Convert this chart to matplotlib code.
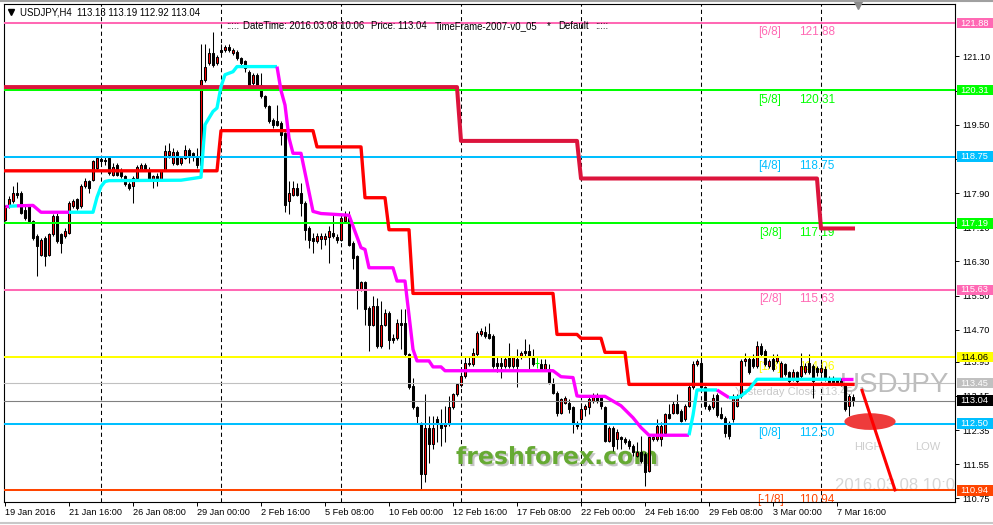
import matplotlib
matplotlib.use("Agg")
import matplotlib.pyplot as plt
import matplotlib.patheffects as pe
from matplotlib.patches import Rectangle, Ellipse
from matplotlib.transforms import blended_transform_factory
import numpy as np

plt.rcParams['font.family'] = ['Liberation Sans', 'DejaVu Sans']

# USDJPY H4 candles, bar 0 = 19 Jan 2016 00:00, last bar = 8 Mar 2016 08:00
opens = [
    117.28, 117.59, 117.71, 117.90, 117.90, 117.51, 117.59, 117.24, 116.89, 116.46,
    116.85, 116.46, 116.93, 117.37, 116.93, 116.89, 116.97, 117.59, 117.75, 117.59,
    118.06, 118.17, 118.21, 118.49, 118.70, 118.68, 118.72, 118.33, 118.56, 118.45,
    118.29, 118.10, 118.06, 118.25, 118.45, 118.56, 118.45, 118.19, 118.29, 118.21,
    118.45, 118.78, 118.60, 118.87, 118.60, 118.73, 118.91, 118.83, 118.76, 118.56,
    120.55, 120.94, 121.17, 120.94, 121.25, 121.25, 121.33, 121.17, 121.21, 121.05,
    120.98, 120.74, 120.47, 120.67, 120.43, 120.16, 119.93, 119.61, 119.58, 119.54,
    119.30, 117.71, 117.86, 118.02, 117.90, 117.67, 117.08, 116.85, 116.77, 116.83,
    116.83, 116.87, 116.97, 116.87, 116.81, 117.24, 117.32, 116.72, 116.42, 115.64,
    115.82, 115.21, 114.82, 115.25, 114.32, 114.82, 115.10, 114.51, 114.51, 114.86,
    114.86, 114.12, 113.38, 112.88, 112.49, 111.32, 112.41, 112.02, 112.61, 112.49,
    112.45, 112.49, 112.88, 113.19, 113.41, 113.62, 113.89, 113.89, 114.12, 114.59,
    114.65, 114.59, 114.55, 113.93, 113.93, 113.85, 114.05, 113.85, 114.01, 114.05,
    114.20, 114.20, 114.05, 113.93, 113.89, 113.77, 113.77, 113.46, 113.23, 112.76,
    112.99, 112.99, 112.88, 112.49, 112.61, 112.84, 112.88, 113.03, 113.15, 113.11,
    112.88, 112.10, 112.41, 112.14, 112.18, 112.14, 112.10, 111.98, 111.75, 111.83,
    111.79, 111.40, 112.14, 112.14, 112.14, 112.29, 112.72, 112.76, 112.96, 112.80,
    112.61, 112.92, 113.35, 113.89, 113.93, 113.35, 112.92, 112.88, 113.17, 112.72,
    112.64, 112.49, 112.61, 112.92, 113.15, 113.97, 114.01, 114.01, 113.85, 114.32,
    114.20, 113.85, 114.01, 113.97, 113.58, 113.89, 113.70, 113.54, 113.70, 113.62,
    113.70, 113.93, 113.85, 113.81, 113.70, 113.77, 113.58, 113.58, 113.54, 113.54,
    113.40, 112.92, 113.13,
]
highs = [
    117.63, 117.82, 118.06, 118.16, 117.94, 117.59, 117.63, 117.28, 116.93, 116.85,
    116.89, 116.97, 117.40, 117.43, 116.97, 117.08, 117.71, 117.75, 117.78, 118.10,
    118.25, 118.21, 118.68, 118.76, 118.76, 118.76, 118.76, 118.60, 118.60, 118.49,
    118.33, 118.16, 118.29, 118.56, 118.60, 118.60, 118.52, 118.33, 118.37, 118.45,
    119.03, 119.07, 118.95, 118.91, 118.76, 119.03, 118.95, 118.87, 118.95, 121.40,
    121.40, 121.29, 121.68, 121.13, 121.40, 121.37, 121.40, 121.29, 121.25, 121.09,
    121.01, 120.78, 120.70, 120.70, 120.70, 120.20, 119.96, 119.65, 119.96, 119.58,
    119.32, 118.17, 118.17, 118.13, 118.13, 117.71, 117.12, 116.97, 116.97, 116.97,
    116.97, 117.12, 117.40, 116.93, 117.40, 117.47, 117.47, 116.77, 116.46, 115.84,
    115.84, 115.25, 115.49, 115.45, 115.37, 115.18, 115.14, 114.59, 114.94, 115.18,
    115.18, 114.16, 113.58, 112.92, 112.53, 113.19, 112.68, 112.68, 112.68, 112.84,
    112.92, 113.15, 113.23, 113.46, 113.70, 114.09, 114.05, 114.28, 114.67, 114.75,
    114.79, 114.86, 114.59, 114.09, 114.09, 114.05, 114.40, 114.09, 114.24, 114.20,
    114.48, 114.36, 114.24, 114.09, 114.01, 114.01, 113.89, 113.58, 113.27, 113.11,
    113.15, 113.07, 112.92, 112.57, 112.99, 112.96, 113.15, 113.23, 113.23, 113.15,
    112.92, 112.45, 112.45, 112.37, 112.22, 112.18, 112.14, 112.02, 112.06, 112.22,
    111.83, 112.22, 112.26, 112.61, 112.53, 112.76, 112.96, 113.03, 113.19, 112.84,
    112.96, 113.46, 113.97, 114.01, 114.05, 113.38, 112.96, 113.19, 113.23, 112.88,
    112.68, 112.57, 113.19, 113.19, 114.01, 114.16, 114.05, 114.12, 114.44, 114.40,
    114.24, 114.01, 114.12, 114.12, 113.97, 113.93, 113.73, 113.77, 113.73, 114.16,
    113.93, 114.12, 113.89, 113.85, 113.89, 113.85, 113.62, 113.62, 113.58, 113.58,
    113.45, 113.19, 113.19,
]
lows = [
    117.24, 117.55, 117.67, 117.78, 117.40, 117.28, 117.20, 116.81, 115.95, 116.42,
    116.19, 116.42, 116.89, 116.73, 116.50, 116.85, 116.93, 117.55, 117.51, 117.55,
    118.02, 117.90, 118.17, 118.45, 118.60, 118.56, 118.33, 118.29, 118.29, 118.25,
    118.06, 117.98, 117.67, 118.21, 118.41, 118.41, 118.17, 118.02, 118.06, 118.17,
    118.41, 118.73, 118.56, 118.55, 118.56, 118.70, 118.60, 118.64, 118.48, 118.52,
    120.51, 120.90, 120.86, 120.90, 121.13, 121.21, 121.21, 121.13, 121.01, 120.90,
    120.74, 120.39, 120.43, 120.39, 120.12, 119.89, 119.54, 119.42, 119.46, 119.03,
    117.45, 117.40, 117.82, 117.82, 117.36, 116.81, 116.62, 116.50, 116.73, 116.58,
    116.69, 116.26, 116.85, 116.73, 116.77, 117.20, 116.65, 116.11, 115.18, 115.60,
    114.82, 114.20, 114.79, 114.28, 114.28, 114.79, 114.24, 114.40, 114.47, 114.24,
    114.09, 113.31, 112.84, 112.49, 110.97, 111.13, 111.59, 111.90, 112.06, 111.98,
    112.06, 112.45, 112.84, 113.15, 113.35, 113.58, 113.85, 113.85, 114.09, 114.55,
    114.51, 114.48, 113.81, 113.70, 113.58, 113.81, 113.81, 113.81, 113.35, 114.01,
    114.09, 113.77, 113.85, 113.81, 113.74, 113.74, 113.42, 113.19, 112.68, 112.72,
    112.96, 112.76, 112.29, 112.37, 112.41, 112.68, 112.72, 112.99, 112.99, 112.84,
    112.06, 112.06, 111.87, 111.91, 111.91, 112.02, 111.91, 111.75, 111.71, 111.59,
    111.05, 111.36, 112.10, 112.10, 111.98, 112.26, 112.61, 112.72, 112.72, 112.53,
    112.57, 112.88, 113.31, 113.85, 113.31, 112.84, 112.80, 112.84, 112.65, 112.61,
    112.18, 112.14, 112.53, 112.88, 113.11, 113.85, 113.66, 113.81, 113.81, 114.08,
    113.85, 113.81, 113.73, 113.93, 113.54, 113.62, 113.46, 113.50, 113.46, 113.58,
    113.66, 113.66, 113.11, 113.62, 113.66, 113.50, 113.42, 113.42, 113.42, 113.38,
    112.80, 112.68, 112.92,
]
closes = [
    117.59, 117.75, 117.90, 117.86, 117.43, 117.32, 117.24, 116.85, 116.65, 116.81,
    116.42, 116.93, 117.37, 116.77, 116.73, 117.01, 117.67, 117.71, 117.55, 118.06,
    118.17, 118.02, 118.64, 118.72, 118.64, 118.66, 118.37, 118.52, 118.33, 118.29,
    118.10, 118.02, 118.25, 118.52, 118.56, 118.45, 118.21, 118.29, 118.19, 118.41,
    118.89, 118.89, 118.87, 118.58, 118.72, 118.91, 118.76, 118.76, 118.56, 120.55,
    120.86, 121.17, 120.90, 121.09, 121.21, 121.33, 121.25, 121.25, 121.05, 120.94,
    120.82, 120.43, 120.67, 120.43, 120.16, 119.93, 119.58, 119.50, 119.50, 119.26,
    117.62, 117.90, 118.02, 117.86, 117.67, 117.04, 116.81, 116.77, 116.90, 116.89,
    116.90, 117.01, 116.89, 116.79, 117.32, 117.36, 116.69, 116.38, 115.64, 115.82,
    115.18, 114.82, 115.25, 114.32, 114.82, 115.10, 114.47, 114.47, 114.86, 114.82,
    114.12, 113.35, 112.88, 112.68, 111.32, 112.41, 112.02, 112.41, 112.49, 112.41,
    112.49, 112.88, 113.19, 113.42, 113.62, 113.93, 113.93, 114.16, 114.63, 114.67,
    114.55, 114.51, 113.85, 113.85, 113.85, 114.01, 113.85, 114.05, 113.85, 114.16,
    114.16, 114.05, 113.89, 113.93, 113.77, 113.89, 113.46, 113.23, 112.76, 113.07,
    113.11, 112.84, 112.49, 112.45, 112.84, 112.92, 113.07, 113.15, 113.03, 112.92,
    112.10, 112.41, 111.98, 112.30, 112.14, 112.06, 111.98, 111.83, 111.83, 111.63,
    111.36, 112.18, 112.18, 112.45, 112.45, 112.72, 112.64, 112.96, 112.76, 112.57,
    112.92, 113.35, 113.89, 113.97, 113.35, 112.92, 112.84, 113.11, 112.70, 112.64,
    112.29, 112.22, 113.15, 113.15, 113.97, 114.01, 113.70, 113.85, 114.32, 114.12,
    113.89, 113.97, 113.77, 114.05, 113.93, 113.66, 113.50, 113.70, 113.50, 113.85,
    113.85, 113.70, 113.50, 113.70, 113.81, 113.54, 113.46, 113.46, 113.46, 113.46,
    112.84, 113.15, 113.04,
]

tick_bars = [0, 16, 32, 48, 64, 80, 96, 112, 128, 144, 160, 176, 192, 208]
tick_labels = ["19 Jan 2016", "21 Jan 16:00", "26 Jan 08:00", "29 Jan 00:00",
               "2 Feb 16:00", "5 Feb 08:00", "10 Feb 00:00", "12 Feb 16:00",
               "17 Feb 08:00", "22 Feb 00:00", "24 Feb 16:00", "29 Feb 08:00",
               "3 Mar 00:00", "7 Mar 16:00"]
week_starts = [24, 54, 84, 114, 144, 174, 204]
price_ticks = [121.10, 120.30, 119.50, 118.70, 117.90, 117.10, 116.30, 115.50,
               114.70, 113.95, 113.15, 112.35, 111.55, 110.75]
# ticks whose label sits fully under a price box
hidden_ticks = [120.30, 118.70]

# Murrey math levels
murrey_levels = [121.88, 120.31, 118.75, 117.19, 115.63, 114.06, 112.50, 110.94]
murrey_names = ["[6/8]", "[5/8]", "[4/8]", "[3/8]", "[2/8]", "[1/8]", "[0/8]", "[-1/8]"]
murrey_colors = ["#FF69B4", "#00FF00", "#00BFFF", "#00FF00", "#FF69B4", "#FFFF00",
                 "#00BFFF", "#FF4500"]
yesterday_close = 113.45
last_price = 113.04

# stepped channel lines (bar, price)
upper_bars = [0, 113, 114, 143, 144, 203, 204, 212]
upper_vals = [120.38, 120.38, 119.12, 119.12, 118.24, 118.24, 117.07, 117.07]
lower_bars = [0, 53, 54, 77, 78, 89, 90, 95, 96, 101, 102, 137, 138, 143, 144, 149,
              150, 155, 156, 212]
lower_vals = [118.42, 118.42, 119.36, 119.36, 118.98, 118.98, 117.79, 117.79, 117.04,
              117.04, 115.55, 115.55, 114.59, 114.59, 114.50, 114.50, 114.17, 114.17,
              113.42, 113.42]

# trend line (cyan up / magenta down)
trend_bars = [0, 1, 3, 7, 9, 16, 22, 23, 24, 25, 26, 44, 49, 50, 52, 53, 54, 55, 57, 58,
              68, 69, 70, 71, 72, 74, 77, 79, 86, 89, 90, 91, 97, 98, 100, 102, 103, 106,
              107, 109, 110, 137, 139, 142, 143, 144, 150, 154, 157, 159, 161, 171, 172,
              173, 178, 181, 183, 184, 186, 188, 209, 212]
trend_vals = [117.59, 117.59, 117.60, 117.61, 117.45, 117.45, 117.45, 117.80, 118.05,
              118.17, 118.19, 118.20, 118.27, 119.50, 119.81, 119.89, 120.39, 120.67,
              120.74, 120.86, 120.86, 120.30, 119.96, 119.19, 118.83, 118.83, 117.47,
              117.42, 117.38, 116.62, 116.58, 116.15, 116.15, 115.84, 115.84, 114.24,
              113.97, 113.97, 113.83, 113.83, 113.74, 113.74, 113.60, 113.58, 113.15,
              113.14, 113.14, 112.92, 112.64, 112.41, 112.23, 112.23, 112.70, 113.29,
              113.29, 113.11, 113.11, 113.15, 113.30, 113.54, 113.54, 113.54]
trend_switch_bars = [0, 1, 3, 16, 68, 171, 178, 181, 209]
trend_switch_up = [False, True, False, True, False, True, False, True, False]

# projection objects
target_center = (216.25, 112.55)
target_size = (12.8, 0.39)
proj_bars = [214.25, 222.5]
proj_vals = [113.28, 110.95]


def fx(px):
    # pixel column -> axes fraction
    return (px - 4) / 951.0


def fy(py):
    # pixel row -> axes fraction
    return (502 - py) / 498.0


fig = plt.figure(figsize=(9.93, 5.25), dpi=100)
fig.patch.set_facecolor("white")
ax = fig.add_axes([4 / 993, 23 / 525, 951 / 993, 498 / 525])
ax.set_facecolor("white")
bt = blended_transform_factory(ax.transAxes, ax.transData)

# week separators
for b in week_starts:
    ax.axvline(b, color="black", lw=0.75, ls=(0, (4, 3)), zorder=1)

# candles
x = np.arange(len(opens))
o = np.array(opens)
h = np.array(highs)
l = np.array(lows)
c = np.array(closes)
up = c > o
dn = c < o
doji = c == o
ax.vlines(x[~doji], l[~doji], h[~doji], color="black", lw=0.75, zorder=3)
ax.bar(x[up], (c - o)[up], bottom=o[up], width=0.5, color="red",
       edgecolor="black", linewidth=0.75, zorder=3.1)
ax.bar(x[dn], (o - c)[dn], bottom=c[dn], width=0.5, color="black",
       edgecolor="black", linewidth=0.75, zorder=3.1)
ax.vlines(x[doji], l[doji], h[doji], color="#00FF00", lw=0.75, zorder=3)
ax.hlines(c[doji], x[doji] - 0.4, x[doji] + 0.4, color="#00FF00", lw=0.75, zorder=3)

# levels
for lev, col in zip(murrey_levels, murrey_colors):
    ax.axhline(lev, color=col, lw=1.45, zorder=4)
ax.axhline(yesterday_close, color="#C0C0C0", lw=0.8, zorder=4)
ax.axhline(last_price, color="#808080", lw=0.8, zorder=4)

# channel steps
ax.plot(upper_bars, upper_vals, color="#DC143C", lw=2.9, zorder=5)
ax.plot(lower_bars, lower_vals, color="#FF0000", lw=2.4, zorder=5)

# trend line coloured by direction
def trend_is_up(bar):
    state = trend_switch_up[0]
    for sb, su in zip(trend_switch_bars, trend_switch_up):
        if bar >= sb:
            state = su
    return state

seg_x = [trend_bars[0]]
seg_y = [trend_vals[0]]
seg_up = trend_is_up(trend_bars[0])
for k in range(1, len(trend_bars)):
    seg_x.append(trend_bars[k])
    seg_y.append(trend_vals[k])
    nxt_up = trend_is_up(trend_bars[k]) if k < len(trend_bars) - 1 else seg_up
    if nxt_up != seg_up or k == len(trend_bars) - 1:
        ax.plot(seg_x, seg_y, color="#00FFFF" if seg_up else "#FF00FF", lw=2.4,
                zorder=5.5, solid_capstyle="butt")
        seg_x = [trend_bars[k]]
        seg_y = [trend_vals[k]]
        seg_up = nxt_up

# target ellipse and projection line
ax.add_patch(Ellipse(target_center, target_size[0], target_size[1], fc="#EE3B3B",
                     ec="none", zorder=4.5))
ax.plot(proj_bars, proj_vals, color="red", lw=2.2, zorder=6)

# murrey labels
for lev, name, col in zip(murrey_levels, murrey_names, murrey_colors):
    ax.annotate(name, xy=(fx(770), lev), xycoords=bt, xytext=(0, -2.5),
                textcoords="offset points", ha="center", va="top", fontsize=8.5,
                color=col, zorder=2)
    ax.annotate(f"{lev:.2f}", xy=(fx(817), lev), xycoords=bt, xytext=(0, -2.5),
                textcoords="offset points", ha="center", va="top", fontsize=8.5,
                color=col, zorder=2)

# texts on chart
ax.text(fx(735), fy(392), f"Yesterday Close {yesterday_close:.2f}", transform=ax.transAxes,
        ha="left", va="center", fontsize=8, color="#C8C8C8", zorder=2)
ax.text(fx(840), fy(385), "USDJPY", transform=ax.transAxes, ha="left", va="center",
        fontsize=20, color="#BDBDBD", zorder=2)
ax.text(fx(868), fy(447), "HIGH", transform=ax.transAxes, ha="center", va="center",
        fontsize=8, color="#CDCDCD", zorder=2)
ax.text(fx(928), fy(447), "LOW", transform=ax.transAxes, ha="center", va="center",
        fontsize=8, color="#CDCDCD", zorder=2)
ax.text(fx(835), fy(485), "2016.03.08 10:06", transform=ax.transAxes, ha="left",
        va="center", fontsize=12, color="#D6D6D6", zorder=2, clip_on=True)
ax.text(fx(456), fy(464), "freshforex.com", transform=ax.transAxes, ha="left",
        va="baseline", fontsize=17, fontweight="bold", color="#66AA33",
        family="DejaVu Sans", zorder=2.5,
        path_effects=[pe.withSimplePatchShadow(offset=(1.5, -1.5),
                                               shadow_rgbFace="#808080", alpha=0.45)])

# header
ax.plot([fx(11)], [fy(12)], marker="v", ms=4.5, color="black", transform=ax.transAxes,
        clip_on=False, zorder=8)
ax.text(fx(20), fy(12.5), "USDJPY,H4  113.13 113.19 112.92 113.04", transform=ax.transAxes,
        ha="left", va="center", fontsize=6.9, color="black", zorder=8)
for s, px in [(":::::", 226), ("DateTime: 2016.03.08 10:06", 243), ("Price: 113.04", 371),
              ("TimeFrame-2007-v0_05", 435), ("*", 547), ("Default", 558), (":::::", 595)]:
    ax.text(fx(px), fy(26), s, transform=ax.transAxes, ha="left", va="center",
            fontsize=6.9, color="black", zorder=8)
ax.plot([fx(858)], [fy(5)], marker="v", ms=6, color="#8C8C8C", transform=ax.transAxes,
        clip_on=False, zorder=8)

# right side price boxes
box_items = list(zip(murrey_levels, murrey_colors)) + [(yesterday_close, "#C0C0C0"),
                                                       (last_price, "black")]
for val, col in box_items:
    ax.add_patch(Rectangle((fx(957), val - 0.125), 36 / 951, 0.25, transform=bt,
                           fc=col, ec="none", clip_on=False, zorder=10))
    tcol = "black" if col == "#FFFF00" else "white"
    ax.text(fx(960), val, f"{val:.2f}", transform=bt, ha="left", va="center",
            fontsize=6.7, color=tcol, clip_on=False, zorder=11)

# axes
ax.set_xlim(-0.25, 237.5)
ax.set_ylim(110.667, 122.325)
ax.yaxis.tick_right()
ax.set_yticks(price_ticks)
ax.set_yticklabels(["" if t in hidden_ticks else f"{t:.2f}" for t in price_ticks])
ax.set_xticks(tick_bars)
ax.set_xticklabels(tick_labels)
plt.setp(ax.get_xticklabels(), ha="left")
ax.tick_params(axis="y", labelsize=6.6, length=3, width=0.7, pad=2)
ax.tick_params(axis="x", labelsize=6.6, length=3, width=0.7, pad=1.5)
for sp in ax.spines.values():
    sp.set_linewidth(0.8)
    sp.set_color("black")

fig.add_artist(plt.Line2D([0, 1], [0.999, 0.999], color="#A0A0A0", lw=1.5,
                          transform=fig.transFigure))
fig.add_artist(plt.Line2D([0, 1], [0.004, 0.004], color="#C8C8C8", lw=1.5,
                          transform=fig.transFigure))

fig.savefig("out.png", dpi=100)
